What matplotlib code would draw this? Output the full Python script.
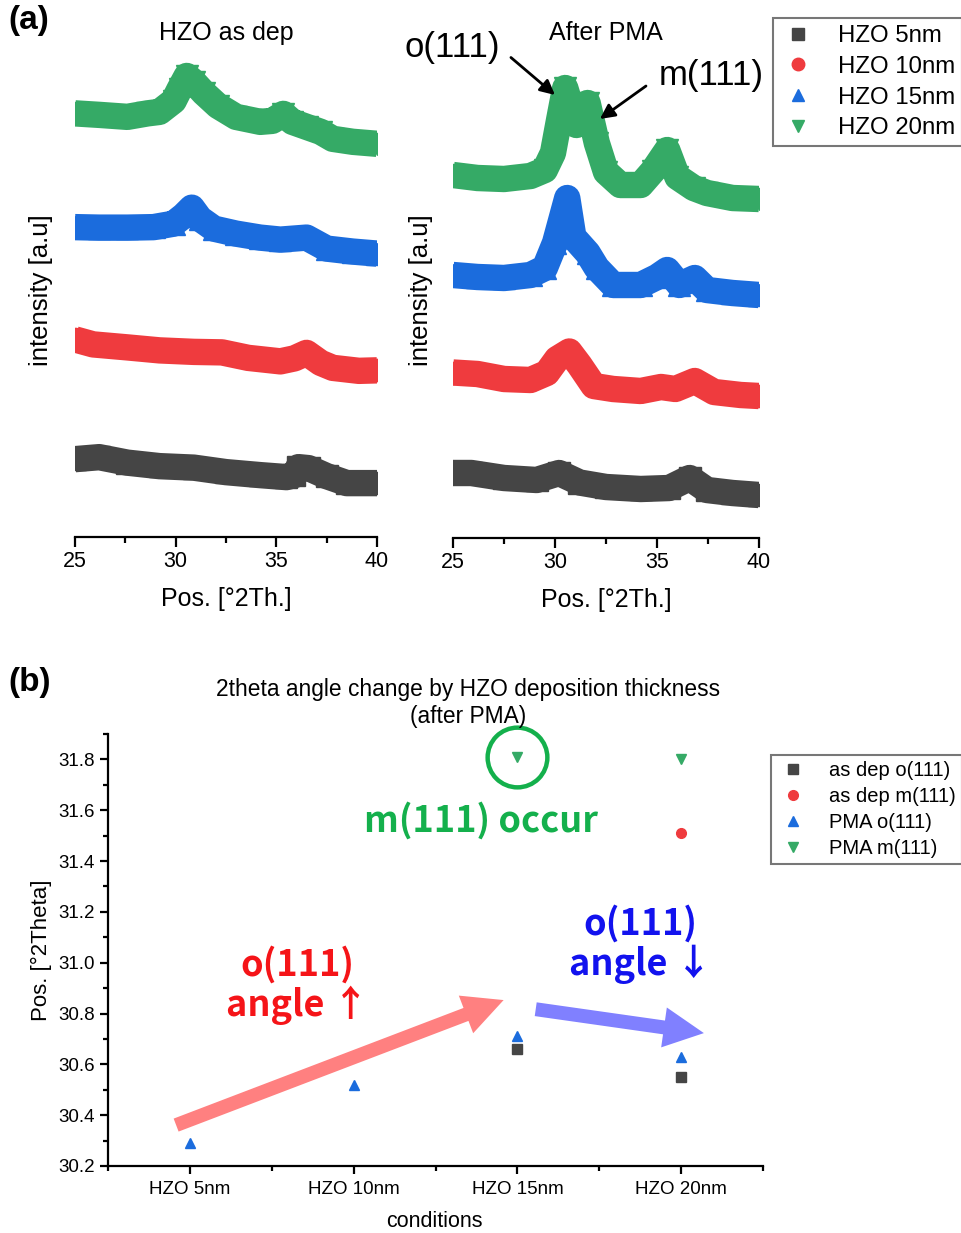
import numpy as np
import matplotlib.pyplot as plt
from matplotlib.lines import Line2D
from matplotlib.ticker import MultipleLocator

plt.rcParams["font.family"] = ["Liberation Sans", "DejaVu Sans"]

# ---- (a) XRD traces: 2theta [deg] / stacked intensity [a.u.] ----
dep_black_x = [25.0, 26.2, 27.6, 29.2, 30.9, 32.5, 34.2, 35.5, 35.9, 36.1, 36.6, 37.5, 38.5, 40.0]
dep_black_y = [78, 80, 74.5, 71, 69.5, 65, 62, 60, 62, 70, 69, 61, 54, 54]
dep_red_x = [25.0, 25.9, 27.6, 29.2, 30.9, 32.3, 33.6, 35.2, 35.9, 36.5, 37.2, 37.8, 39.1, 40.0]
dep_red_y = [198, 193, 190, 187, 185.5, 185, 179.5, 176, 179, 184.5, 174.5, 169.5, 166.5, 167]
dep_blue_x = [25.0, 26.2, 27.6, 28.9, 29.9, 30.4, 30.8, 31.2, 31.9, 33.0, 34.2, 35.2, 36.5, 37.5, 38.8, 40.0]
dep_blue_y = [310.5, 310, 310, 310.5, 314, 322, 330, 319, 309, 304, 300, 298, 300, 289, 286, 284]
dep_green_x = [25.0, 26.2, 27.6, 28.6, 29.2, 29.9, 30.2, 30.55, 30.9, 31.4, 32.1, 33.0, 34.2, 34.8,
               35.35, 35.8, 36.5, 37.2, 37.8, 38.8, 40.0]
dep_green_y = [424.5, 423, 421, 424.5, 426, 437, 449, 462, 456, 445, 432, 421, 416, 417,
               424, 416, 411, 406, 399, 396, 394]

pma_black_x = [25.0, 25.9, 27.5, 29.1, 30.2, 31.2, 32.5, 34.2, 35.6, 36.6, 37.45, 38.7, 40.0]
pma_black_y = [65, 65, 60, 58, 65, 55.5, 51, 49, 50, 60, 48, 45, 43]
pma_red_x = [25.0, 26.2, 27.5, 28.8, 29.6, 30.1, 30.7, 31.2, 31.9, 32.85, 34.2, 35.2, 35.9, 36.85,
             37.8, 39.1, 40.0]
pma_red_y = [165.5, 164, 159, 158, 165, 179, 186.5, 173, 152, 149, 147, 151, 149, 157, 146, 143, 142]
pma_blue_x = [25.0, 26.2, 27.5, 28.8, 29.5, 30.0, 30.6, 30.9, 31.6, 32.05, 32.85, 34.2, 35.0, 35.5,
              36.1, 36.85, 37.45, 38.7, 40.0]
pma_blue_y = [263, 261, 260, 263, 270, 295, 340, 301, 285, 270, 253, 253, 261, 268, 253, 260, 248, 245, 243]
pma_green_x = [25.0, 26.2, 27.5, 28.8, 29.5, 29.9, 30.2, 30.5, 31.05, 31.6, 32.05, 32.5, 33.2, 34.2,
               34.8, 35.5, 36.0, 36.8, 37.45, 38.7, 40.0]
pma_green_y = [363, 360, 359, 362, 368, 385, 418, 450, 413, 435, 395, 366, 353, 353,
               367, 388, 361, 350, 345, 340, 339]

# ---- (b) peak positions ----
conditions = ["HZO 5nm", "HZO 10nm", "HZO 15nm", "HZO 20nm"]
dep_o111 = [np.nan, np.nan, 30.66, 30.55]
dep_m111 = [np.nan, np.nan, np.nan, 31.51]
pma_o111 = [30.29, 30.52, 30.71, 30.63]
pma_m111 = [np.nan, np.nan, 31.81, 31.80]

c_black = "#454545"
c_red = "#EF3B3E"
c_blue = "#1B6CDD"
c_green = "#35AA66"

W, H = 961, 1233
fig = plt.figure(figsize=(W / 100, H / 100), dpi=100)


def px_axes(x0, y0, x1, y1):
    return fig.add_axes([x0 / W, 1 - y1 / H, (x1 - x0) / W, (y1 - y0) / H])


def trace(ax, x, y, color, marker):
    ax.plot(x, y, color=color, lw=19, solid_joinstyle="round", solid_capstyle="butt",
            marker=marker, ms=16, mec=color, mfc=color)


def xrd_axes(ax, title, ylab_x):
    ax.set_xlim(25, 40)
    ax.set_ylim(0, 488)
    for s in ["left", "right", "top"]:
        ax.spines[s].set_visible(False)
    ax.spines["bottom"].set_linewidth(1.6)
    ax.set_yticks([])
    ax.set_xticks([25, 30, 35, 40])
    ax.xaxis.set_minor_locator(MultipleLocator(2.5))
    ax.tick_params(axis="x", which="major", length=7, width=1.6, labelsize=15.5, pad=3)
    ax.tick_params(axis="x", which="minor", length=4, width=1.6)
    ax.set_xlabel("Pos. [°2Th.]", fontsize=18)
    ax.xaxis.set_label_coords(0.5, -0.103)
    ax.set_ylabel("intensity [a.u]", fontsize=18.5)
    ax.yaxis.set_label_coords(ylab_x, 0.507)
    ax.text(0.5, 1.035, title, transform=ax.transAxes, ha="center", va="center", fontsize=18)


ax1 = px_axes(75, 50, 377, 537)
trace(ax1, dep_black_x, dep_black_y, c_black, "s")
trace(ax1, dep_red_x, dep_red_y, c_red, "o")
trace(ax1, dep_blue_x, dep_blue_y, c_blue, "^")
trace(ax1, dep_green_x, dep_green_y, c_green, "v")
xrd_axes(ax1, "HZO as dep", -0.074)

ax2 = px_axes(453, 50, 759, 538)
trace(ax2, pma_black_x, pma_black_y, c_black, "s")
trace(ax2, pma_red_x, pma_red_y, c_red, "o")
trace(ax2, pma_blue_x, pma_blue_y, c_blue, "^")
trace(ax2, pma_green_x, pma_green_y, c_green, "v")
xrd_axes(ax2, "After PMA", -0.066)

ax2.text(24.95, 490, "o(111)", fontsize=25, ha="center", va="center", clip_on=False)
ax2.text(37.65, 463, "m(111)", fontsize=25, ha="center", va="center", clip_on=False)
ax2.annotate("", xy=(30.0, 443), xytext=(27.84, 480.5), annotation_clip=False,
             arrowprops=dict(arrowstyle="-|>", color="black", lw=2, mutation_scale=22,
                             shrinkA=0, shrinkB=0))
ax2.annotate("", xy=(32.2, 419), xytext=(34.46, 452), annotation_clip=False,
             arrowprops=dict(arrowstyle="-|>", color="black", lw=2, mutation_scale=22,
                             shrinkA=0, shrinkB=0))

leg_a = [Line2D([], [], ls="none", marker=m, color=c, ms=9, label=l)
         for m, c, l in [("s", c_black, "HZO 5nm"), ("o", c_red, "HZO 10nm"),
                         ("^", c_blue, "HZO 15nm"), ("v", c_green, "HZO 20nm")]]
la = fig.legend(handles=leg_a, loc="upper left", bbox_to_anchor=(773 / W, 1 - 18 / H),
                fontsize=17.3, frameon=True, fancybox=False, edgecolor="#555555",
                borderpad=0.3, labelspacing=0.36, handletextpad=0.9, handlelength=1.5,
                borderaxespad=0)
la.get_frame().set_linewidth(1.5)

fig.text(8 / W, 1 - 20 / H, "(a)", fontsize=24, fontweight="bold", va="center")
fig.text(8 / W, 1 - 683 / H, "(b)", fontsize=24, fontweight="bold", va="center")

# ---- (b) ----
ax3 = px_axes(108, 734, 763, 1166)
xpos = np.arange(len(conditions))
ax3.plot(xpos, dep_o111, ls="none", marker="s", ms=6.5, color=c_black, label="as dep o(111)")
ax3.plot(xpos, dep_m111, ls="none", marker="o", ms=7, color=c_red, label="as dep m(111)")
ax3.plot(xpos, pma_o111, ls="none", marker="^", ms=7.5, color=c_blue, label="PMA o(111)")
ax3.plot(xpos, pma_m111, ls="none", marker="v", ms=7.5, color=c_green, label="PMA m(111)")

ax3.set_xlim(-0.5, 3.5)
ax3.set_ylim(30.2, 31.9)
ax3.set_xticks(xpos)
ax3.set_xticklabels(conditions)
ax3.xaxis.set_minor_locator(MultipleLocator(0.5))
ax3.set_yticks(np.arange(30.2, 31.81, 0.2))
ax3.yaxis.set_minor_locator(MultipleLocator(0.1))
for s in ["right", "top"]:
    ax3.spines[s].set_visible(False)
for s in ["left", "bottom"]:
    ax3.spines[s].set_linewidth(1.6)
ax3.tick_params(which="major", length=6, width=1.6, labelsize=13.5)
ax3.tick_params(which="minor", length=3.5, width=1.6)
ax3.tick_params(axis="x", pad=5)
ax3.set_xlabel("conditions", fontsize=15.5)
ax3.xaxis.set_label_coords(0.499, -0.105)
ax3.set_ylabel("Pos. [°2Theta]", fontsize=16)
ax3.yaxis.set_label_coords(-0.086, 0.5)
ax3.text(0.55, 1.072, "2theta angle change by HZO deposition thickness\n(after PMA)",
         transform=ax3.transAxes, ha="center", va="center", fontsize=16.4, linespacing=1.25)

lb = ax3.legend(loc="upper left", bbox_to_anchor=(771 / W, 1 - 755 / H),
                bbox_transform=fig.transFigure, fontsize=14.5, frameon=True, fancybox=False,
                edgecolor="#555555", borderpad=0.3, labelspacing=0.35, handletextpad=1.0,
                handlelength=1.6, borderaxespad=0)
lb.get_frame().set_linewidth(1.5)

# highlight + trend annotations
bold_font = ["Noto Sans CJK KR", "DejaVu Sans"]
ax3.plot(2, pma_m111[2], ls="none", marker="o", ms=43, mfc="none", mec="#14B04C", mew=3.2,
         clip_on=False)
ax3.text(1.775, 31.56, "m(111) occur", color="#14B04C", fontsize=26, fontweight="bold",
         family=bold_font, ha="center", va="center")
ax3.text(0.656, 30.911, "o(111)\nangle ↑", color="#F51418", fontsize=26, fontweight="bold",
         family=bold_font, ha="center", va="center", linespacing=1.05)
ax3.text(2.754, 31.073, "o(111)\nangle ↓", color="#1212EE", fontsize=26, fontweight="bold",
         family=bold_font, ha="center", va="center", linespacing=1.05)

ax3.annotate("", xy=(1.916, 30.853), xytext=(-0.084, 30.361),
             arrowprops=dict(arrowstyle="simple,head_length=2.9,head_width=2.9,tail_width=1.0",
                             mutation_scale=10, color="#FF8080", lw=0, shrinkA=0, shrinkB=0))
ax3.annotate("", xy=(3.139, 30.723), xytext=(2.112, 30.817),
             arrowprops=dict(arrowstyle="simple,head_length=2.9,head_width=2.9,tail_width=1.0",
                             mutation_scale=10, color="#8080FF", lw=0, shrinkA=0, shrinkB=0))

fig.savefig("out.png", dpi=100)
